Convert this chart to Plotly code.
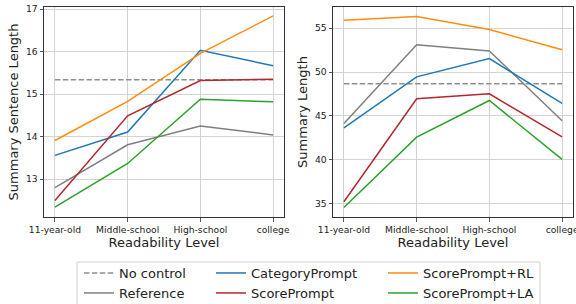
import plotly.graph_objects as go
from plotly.subplots import make_subplots

levels = ["11-year-old", "Middle-school", "High-school", "college"]

series_names = ["No control", "Reference", "CategoryPrompt", "ScorePrompt", "ScorePrompt+RL", "ScorePrompt+LA"]

# Left: Summary Sentence Length
sent_no_control = [15.34, 15.34, 15.34, 15.34]
sent_reference = [12.80, 13.81, 14.25, 14.04]
sent_category = [13.56, 14.11, 16.03, 15.67]
sent_score = [12.50, 14.49, 15.32, 15.35]
sent_score_rl = [13.91, 14.83, 15.96, 16.84]
sent_score_la = [12.34, 13.37, 14.88, 14.82]

# Right: Summary Length
len_no_control = [48.65, 48.65, 48.65, 48.65]
len_reference = [44.13, 53.10, 52.41, 44.43]
len_category = [43.63, 49.45, 51.54, 46.41]
len_score = [35.19, 46.94, 47.51, 42.60]
len_score_rl = [55.91, 56.33, 54.85, 52.53]
len_score_la = [34.54, 42.57, 46.75, 40.02]

colors = {
    "No control": "#8f8f8f",
    "Reference": "#7f7f7f",
    "CategoryPrompt": "#1f77b4",
    "ScorePrompt": "#b2282c",
    "ScorePrompt+RL": "#ff8c0e",
    "ScorePrompt+LA": "#2ca02c",
}

left_data = [sent_no_control, sent_reference, sent_category, sent_score, sent_score_rl, sent_score_la]
right_data = [len_no_control, len_reference, len_category, len_score, len_score_rl, len_score_la]

W, H = 576, 304
FONT = "DejaVu Sans"

fig = make_subplots(rows=1, cols=2)

legend_ids = ["legend", "legend2", "legend3", "legend4", "legend5", "legend6"]
# legend positions (px): column-major like matplotlib ncol=3
leg_pos = [(79, 273), (79, 293), (211, 273), (211, 293), (383, 273), (383, 293)]

for i, name in enumerate(series_names):
    dash = "5.5px,2.4px" if name == "No control" else "solid"
    fig.add_trace(go.Scatter(
        x=levels, y=left_data[i], mode="lines", name=name,
        line=dict(color=colors[name], width=1.5, dash=dash),
        showlegend=True, legend=legend_ids[i],
    ), row=1, col=1)
    fig.add_trace(go.Scatter(
        x=levels, y=right_data[i], mode="lines", name=name,
        line=dict(color=colors[name], width=1.5, dash=dash),
        showlegend=False,
    ), row=1, col=2)

axis_common = dict(
    showline=True, mirror=True, linecolor="#333333", linewidth=1,
    showgrid=True, gridcolor="#d3d3d3", gridwidth=1,
    ticks="outside", ticklen=3.5, tickwidth=1, tickcolor="#555555",
    zeroline=False, automargin=False,
    tickfont=dict(family=FONT, size=9.2, color="#222222"),
)

fig.update_xaxes(**axis_common, type="category", range=[-0.15, 3.15],
                 title=dict(text="Readability Level", font=dict(family=FONT, size=13, color="#222222"), standoff=3))
fig.update_xaxes(domain=[44 / W, 284 / W], row=1, col=1)
fig.update_xaxes(domain=[333 / W, 573 / W], row=1, col=2)

fig.update_yaxes(**axis_common)
fig.update_yaxes(domain=[87 / H, 297 / H], range=[12.11, 17.05], dtick=1,
                 title=dict(text="Summary Sentence Length", font=dict(family=FONT, size=13, color="#222222"), standoff=4),
                 row=1, col=1)
fig.update_yaxes(domain=[87 / H, 297 / H], range=[33.45, 57.42], dtick=5,
                 title=dict(text="Summary Length", font=dict(family=FONT, size=13, color="#222222"), standoff=4),
                 row=1, col=2)

layout_legends = {}
for lid, (px, py) in zip(legend_ids, leg_pos):
    layout_legends[lid] = dict(
        x=px / W, y=1 - py / H, xanchor="left", yanchor="middle",
        bgcolor="rgba(0,0,0,0)", borderwidth=0,
        font=dict(family=FONT, size=13, color="#222222"),
        itemwidth=30,
    )

fig.update_layout(
    width=W, height=H,
    margin=dict(l=0, r=0, t=0, b=0, autoexpand=False),
    paper_bgcolor="white", plot_bgcolor="white",
    font=dict(family=FONT, color="#222222"),
    **layout_legends,
    shapes=[dict(
        type="rect", xref="paper", yref="paper",
        x0=77 / W, x1=540 / W, y0=1 - 320 / H, y1=1 - 262 / H,
        line=dict(color="#d0d0d0", width=1), fillcolor="white", layer="below",
    )],
)

fig.write_html(
    "out.html",
    config={"displayModeBar": False},
    post_script="document.body.style.margin='0';document.body.style.overflow='hidden';",
)
